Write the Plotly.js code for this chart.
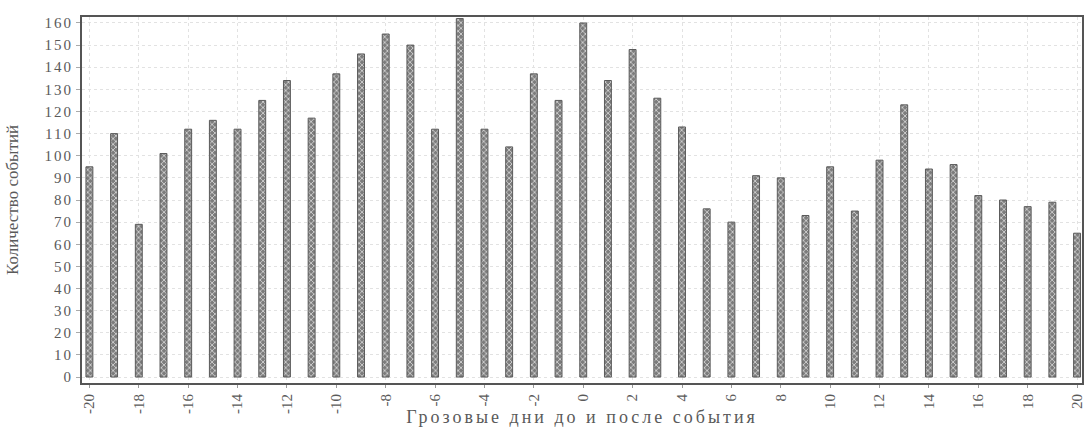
<!DOCTYPE html>
<html>
<head>
<meta charset="utf-8">
<script src="https://cdn.plot.ly/plotly-3.0.1.min.js"></script>
<style>
html,body{margin:0;padding:0;background:#fff;}
#chart{width:1087px;height:427px;}
.ytick text{letter-spacing:2px;}
.g-xtitle text{letter-spacing:3px;}
</style>
</head>
<body>
<div id="chart"></div>
<script>
const days = [-20,-19,-18,-17,-16,-15,-14,-13,-12,-11,-10,-9,-8,-7,-6,-5,-4,-3,-2,-1,0,1,2,3,4,5,6,7,8,9,10,11,12,13,14,15,16,17,18,19,20];
const counts = [95,110,69,101,112,116,112,125,134,117,137,146,155,150,112,162,112,104,137,125,160,134,148,126,113,76,70,91,90,73,95,75,98,123,94,96,82,80,77,79,65];
const xTicks = [-20,-18,-16,-14,-12,-10,-8,-6,-4,-2,0,2,4,6,8,10,12,14,16,18,20];
const yTicks = [0,10,20,30,40,50,60,70,80,90,100,110,120,130,140,150,160];

const serif = '"Liberation Serif", "DejaVu Serif", serif';

Plotly.newPlot('chart', [{
  type: 'bar',
  x: days,
  y: counts,
  width: 0.28,
  marker: {
    color: '#8f8f8f',
    line: {color: '#5a5a5a', width: 1},
    pattern: {shape: 'x', size: 4, fgcolor: '#d0d0d0', bgcolor: '#7c7c7c', solidity: 0.4}
  },
  hoverinfo: 'x+y'
}], {
  width: 1087, height: 427,
  margin: {l: 82, r: 5, t: 17, b: 44},
  paper_bgcolor: '#fff', plot_bgcolor: '#fff',
  showlegend: false,
  font: {family: serif, color: '#555'},
  xaxis: {
    range: [-20.3, 20.2],
    tickvals: xTicks, ticktext: xTicks.map(String),
    tickangle: -90,
    tickfont: {family: serif, size: 15, color: '#5a5a5a'},
    ticks: 'outside', ticklen: 3, tickcolor: '#999',
    showgrid: true, gridcolor: '#e2e2e2', griddash: 'dot', gridwidth: 1,
    zeroline: false,
    showline: true, linecolor: '#555', linewidth: 2, mirror: true,
    title: {text: 'Грозовые дни до и после события', font: {family: serif, size: 18, color: '#5a5a5a'}, standoff: 2}
  },
  yaxis: {
    range: [-2.7, 162.7],
    tickvals: yTicks, ticktext: yTicks.map(String),
    tickfont: {family: serif, size: 15, color: '#5a5a5a'},
    ticks: 'outside', ticklen: 4, tickcolor: '#aaa',
    showgrid: true, gridcolor: '#e2e2e2', griddash: 'dot', gridwidth: 1,
    zeroline: false,
    showline: true, linecolor: '#555', linewidth: 2, mirror: true,
    title: {text: 'Количество событий', font: {family: serif, size: 17, color: '#5a5a5a'}, standoff: 22}
  }
}, {displayModeBar: false, staticPlot: true});
</script>
</body>
</html>
